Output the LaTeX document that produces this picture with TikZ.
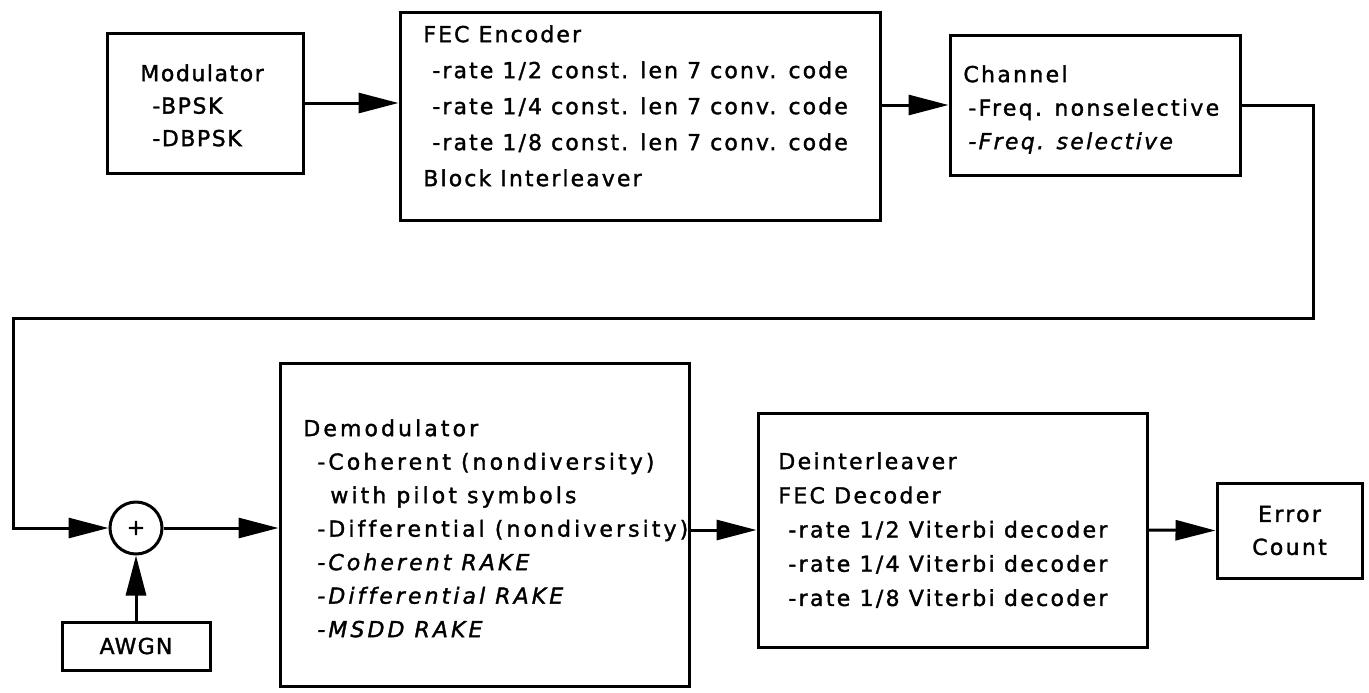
\documentclass[tikz,border=0pt]{standalone}
\usepackage{fontspec}
\defaultfontfeatures{Ligatures=CommonOff, FakeBold=1.5}
\setmainfont{DejaVu Sans}[LetterSpace=10.5]
\newfontfamily\modfont{DejaVu Sans}[LetterSpace=7]
\newfontfamily\fecfont{DejaVu Sans}[LetterSpace=9.5]
\newfontfamily\demodfont{DejaVu Sans}[LetterSpace=14]
\newfontfamily\awgnfont{DejaVu Sans}[LetterSpace=5.7]
\usetikzlibrary{arrows.meta}
\begin{document}
\begin{tikzpicture}[x=0.5pt,y=-0.5pt,
  box/.style={draw, line width=1.5pt, inner sep=0pt},
  txt/.style={anchor=north west, inner sep=0pt, align=left},
  wire/.style={line width=1.5pt},
  arr/.style={wire, -{Triangle[length=20pt,width=10pt]}}]
\useasboundingbox (0,0) rectangle (1369,692);

% boxes
\node[box, minimum width=98pt, minimum height=70pt] (mod) at (205,103) {};
\node[box, minimum width=240pt, minimum height=104pt] (fec) at (640,116) {};
\node[box, minimum width=145pt, minimum height=70pt] (ch) at (1095,105) {};
\node[box, minimum width=204.5pt, minimum height=161.5pt] (demod) at (484.5,524.5) {};
\node[box, minimum width=194.5pt, minimum height=117pt] (deint) at (952.5,530) {};
\node[box, minimum width=72.5pt, minimum height=47.5pt, align=center,
      font=\fontsize{11}{16.5}\selectfont] (err) at (1289.5,530.5) {Error\\Count};
\node[box, minimum width=74pt, minimum height=24pt,
      font=\awgnfont\fontsize{11}{16}\selectfont] (awgn) at (136,646) {AWGN};
\node[draw, circle, line width=1.5pt, minimum size=26pt, inner sep=0pt,
      font=\fontsize{11}{12}\selectfont] (sum) at (136,528) {+};

% texts
\node[txt, font=\modfont\fontsize{11}{16.25}\selectfont] (modtxt) at (140,64)
  {Modulator\\\hspace*{6pt}-BPSK\\\hspace*{6pt}-DBPSK};
\node[txt, font=\fecfont\fontsize{11}{18}\selectfont] (fectxt) at (423,25)
  {FEC Encoder\\
   \hspace*{4.5pt}-rate 1/2 const. len 7 conv. code\\
   \hspace*{4.5pt}-rate 1/4 const. len 7 conv. code\\
   \hspace*{4.5pt}-rate 1/8 const. len 7 conv. code\\
   Block Interleaver};
\node[txt, font=\fontsize{11}{16.75}\selectfont] (chtxt) at (963,65)
  {Channel\\\hspace*{2.5pt}-Freq. nonselective\\\hspace*{2.5pt}\textit{-Freq. selective}};
\node[txt, font=\demodfont\fontsize{11}{16.75}\selectfont] (demodtxt) at (303,419)
  {Demodulator\\
   \hspace*{7pt}-Coherent (nondiversity)\\
   \hspace*{13.5pt}with pilot symbols\\
   \hspace*{7pt}-Differential (nondiversity)\\
   \hspace*{7pt}\textit{-Coherent RAKE}\\
   \hspace*{7pt}\textit{-Differential RAKE}\\
   \hspace*{7pt}\textit{-MSDD RAKE}};
\node[txt, font=\fontsize{11}{17.1}\selectfont] (deinttxt) at (778,452)
  {Deinterleaver\\
   FEC Decoder\\
   \hspace*{5pt}-rate 1/2 Viterbi decoder\\
   \hspace*{5pt}-rate 1/4 Viterbi decoder\\
   \hspace*{5pt}-rate 1/8 Viterbi decoder};

% connectors
\coordinate (c2) at (1313,318);
\coordinate (c3) at (13,318);
\draw[arr] (mod.east) -- (mod.east -| fec.west);
\draw[arr] (ch.west -| fec.east) -- (ch.west);
\draw[arr] (ch.east) -| (c2) -- (c3) |- (sum.west);
\draw[arr] (awgn.north) -- (sum.south);
\draw[arr] (sum.east) -- (sum.east -| demod.west);
\draw[arr] (deint.west -| demod.east) -- (deint.west);
\draw[arr] (deint.east) -- (err.west);
\end{tikzpicture}
\end{document}
